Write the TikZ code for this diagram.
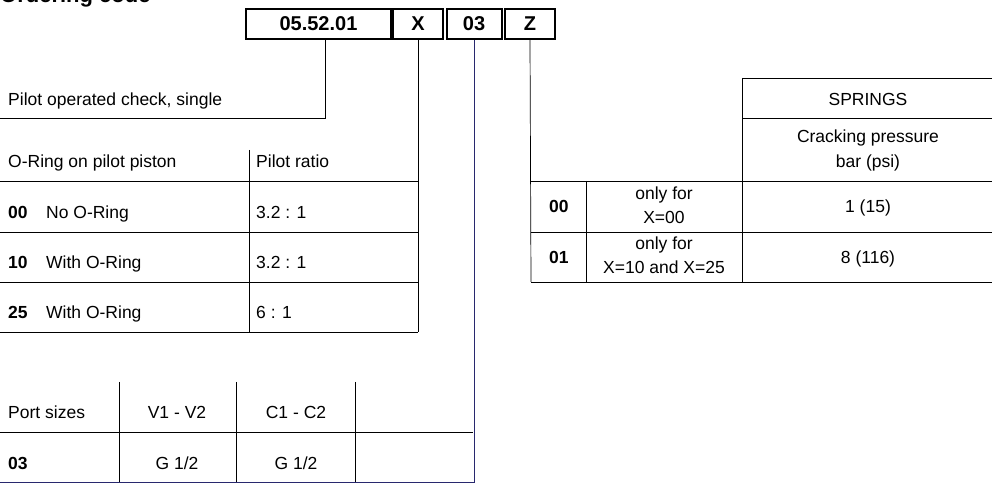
\documentclass[tikz,border=0pt]{standalone}
\usepackage{fontspec}
\setmainfont{Liberation Sans}
\begin{document}
\begin{tikzpicture}[x=1pt,y=-1pt,
    txt/.style={font=\fontsize{17.5}{20}\selectfont, inner sep=0pt, anchor=base west},
    ctr/.style={font=\fontsize{17.5}{20}\selectfont, inner sep=0pt, anchor=base, align=center},
    codebox/.style={draw, line width=2pt, minimum height=30pt, inner sep=0pt, font=\fontsize{20}{22}\selectfont\bfseries},
    rule/.style={line width=0.7pt},
    blueline/.style={line width=0.7pt, draw={rgb,255:red,40;green,40;blue,110}}]
  \useasboundingbox (0,0) rectangle (997,486);
  \clip (0,0) rectangle (997,486);
  % Titel
  \node[txt, font=\fontsize{22}{24}\selectfont\bfseries] (title) at (0,3) {Ordering code};

  % Bestillingskode
  \node[codebox, minimum width=145pt] (base) at (318.5,24) {05.52.01};
  \node[codebox, minimum width=50pt] (x) at (418,24) {X};
  \node[codebox, minimum width=55pt] (size) at (474,24) {03};
  \node[codebox, minimum width=50pt] (z) at (530,24) {Z};

  % Type
  \coordinate (baseend) at (0,118);
  \draw[rule] (base.south -| 325,0) |- (baseend);
  \node[txt] (type) at (8,106) {Pilot operated check, single};

  % O-ring tabell
  \draw[rule] (x.south) -- (418,332);
  \foreach \y in {181,232,282,332} \draw[rule] (0,\y) -- (418,\y);
  \draw[rule] (249,150) -- (249,332);
  \node[txt] (oring) at (8,168) {O-Ring on pilot piston};
  \node[txt] (ratio) at (256,168) {Pilot ratio};
  \foreach \y/\c/\t/\r in {213/00/No O-Ring/3.2 : 1, 263/10/With O-Ring/3.2 : 1, 313/25/With O-Ring/6 : 1} {
    \node[txt, font=\fontsize{17.5}{20}\selectfont\bfseries] at (8,\y+6) {\c};
    \node[txt] at (46,\y+6) {\t};
    \node[txt] at (256,\y+6) {\r};
  }

  % Portstørrelser
  \draw[blueline] (size.south) |- (0,482);
  \draw[rule] (0,432) -- (473,432);
  \foreach \x in {119,236,355} \draw[rule] (\x,382) -- (\x,482);
  \node[txt] (ports) at (8,419) {Port sizes};
  \node[ctr] (v) at (177,419) {V1 - V2};
  \node[ctr] (c) at (296,419) {C1 - C2};
  \node[txt, font=\fontsize{17.5}{20}\selectfont\bfseries] (p03) at (8,470) {03};
  \node[ctr] (gv) at (177,470) {G 1/2};
  \node[ctr] (gc) at (296,470) {G 1/2};

  % Fjærer
  \draw[rule] (z.south) -- (531,282);
  \foreach \y in {181,232,282} \draw[rule] (531,\y) -- (992,\y);
  \foreach \y in {78,118} \draw[rule] (742,\y) -- (992,\y);
  \draw[rule] (742,78) -- (742,282);
  \draw[rule] (586,181) -- (586,282);
  \node[ctr] (springs) at (868,106) {SPRINGS};
  \node[ctr] (crack) at (868,143) {Cracking pressure};
  \node[ctr] (bar) at (868,168) {bar (psi)};
  \node[txt, font=\fontsize{17.5}{20}\selectfont\bfseries] (s00) at (549,213) {00};
  \node[ctr] (only1) at (664,200) {only for};
  \node[ctr] (x00) at (664,224) {X=00};
  \node[ctr] (p1) at (868,213) {1 (15)};
  \node[txt, font=\fontsize{17.5}{20}\selectfont\bfseries] (s01) at (549,264) {01};
  \node[ctr] (only2) at (664,250) {only for};
  \node[ctr] (x10) at (664,274) {X=10 and X=25};
  \node[ctr] (p8) at (868,264) {8 (116)};
\end{tikzpicture}
\end{document}
